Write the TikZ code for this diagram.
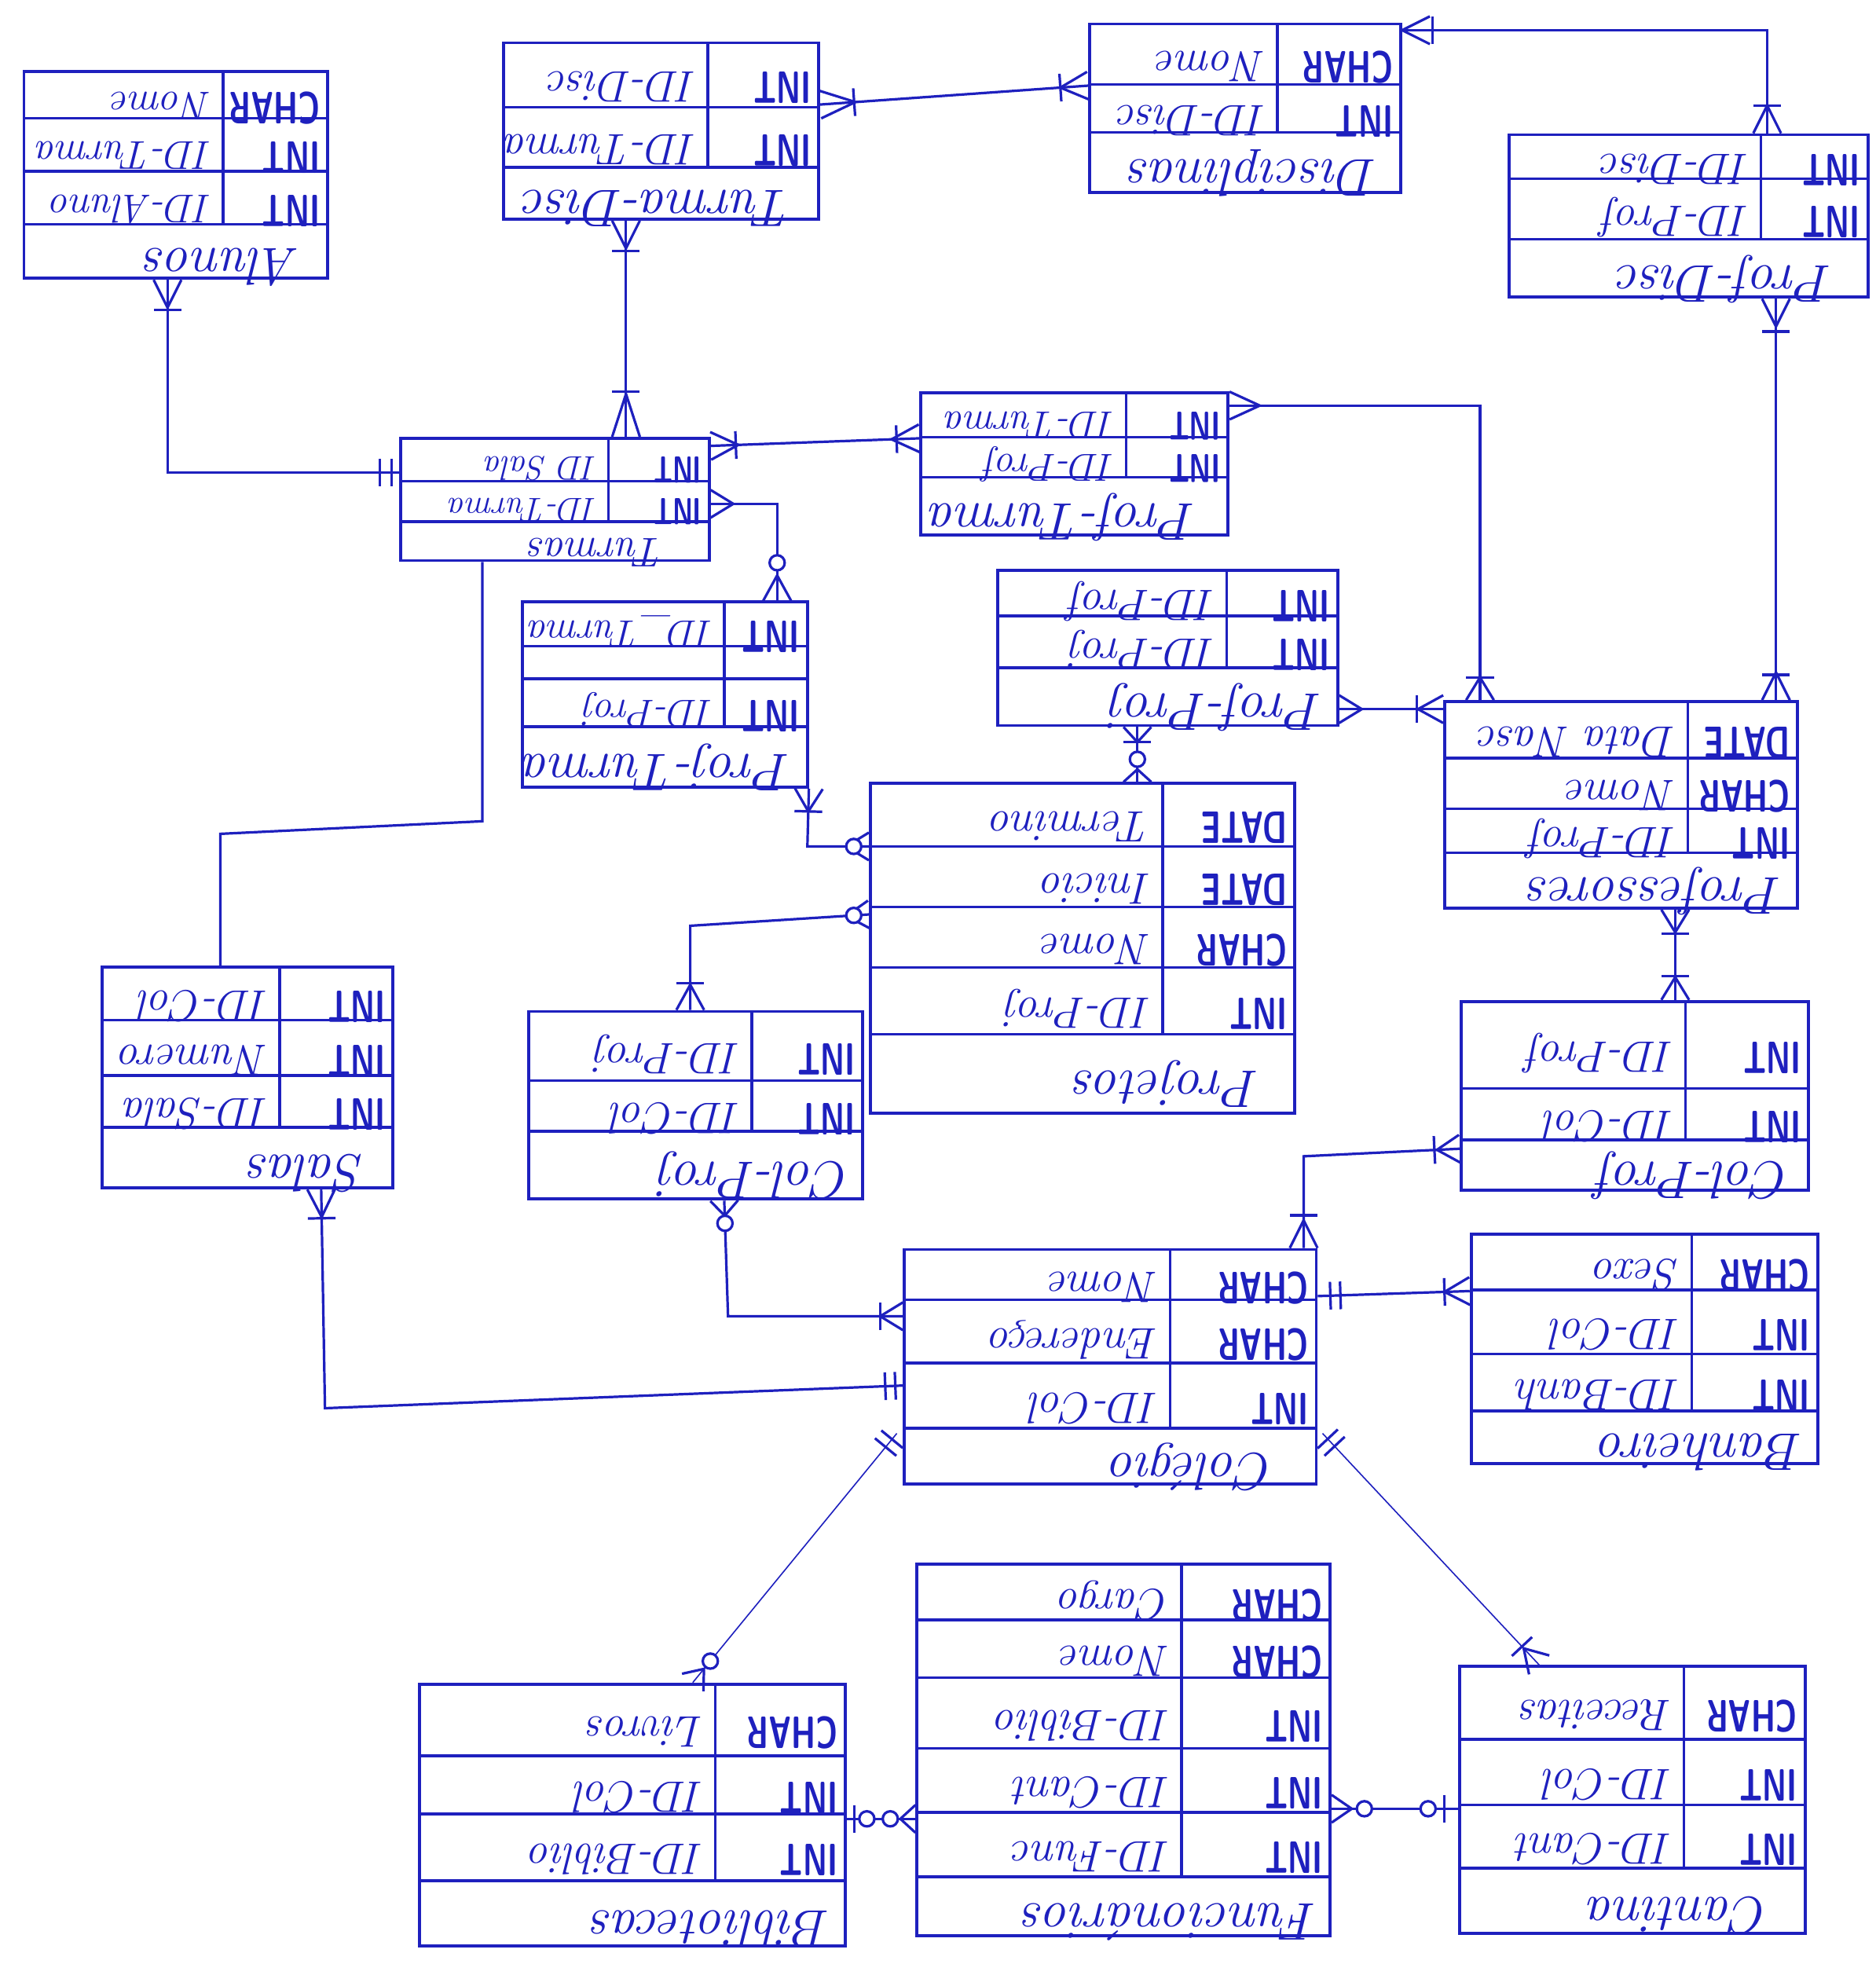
\documentclass[tikz,border=0pt]{standalone}
\usepackage{fontspec}
\usetikzlibrary{calc,fit}
\definecolor{ink}{RGB}{30,32,190}

% table frame: name, left, top, right, bottom, divider x, divider end y, row rules
\newcommand\ertable[8]{%
  \node[tbl,fit={(#2,#3) (#4,#5)}] (#1) {};
  \draw[rule] (#6,#3) -- (#6,#7);
  \foreach \yy in {#8} {\draw[rule] (#2,\yy) -- (#4,\yy);}%
}
% one attribute row: name, divider x, right x, row centre, type, field
\newcommand\fieldrow[6]{%
  \node[typ] (#1-t) at (#3-6,#4) {#5};
  \node[fld] (#1-f) at (#2-9,#4) {#6};
}
% table title: name, x, y, text
\newcommand\tabletitle[4]{\node[ttl] (#1) at (#2,#3) {#4};}

% relationship end marks: #2 = point on the box, #3 = point further along the line
\newcommand\manymark[3][22pt]{%
  \draw[mk] ($(#2)!11pt!90:(#3)$) -- ($(#2)!#1!(#3)$) -- ($(#2)!11pt!-90:(#3)$);}
\newcommand\revmark[3][22pt]{%
  \path ($(#2)!#1!(#3)$) coordinate (rv);
  \draw[mk] ($(rv)!11pt!90:(#3)$) -- (#2) -- ($(rv)!11pt!-90:(#3)$);}
\newcommand\onetick[3]{%
  \path ($(#1)!#3!(#2)$) coordinate (tk);
  \draw[mk] ($(tk)!11pt!90:(#2)$) -- ($(tk)!11pt!-90:(#2)$);}
\newcommand\zeroring[3]{\draw[mk,fill=white] ($(#1)!#3!(#2)$) circle (6pt);}

\begin{document}
\begin{tikzpicture}[x=1pt,y=-1pt,
  tbl/.style={draw=ink,line width=2.4pt,inner sep=0pt},
  rule/.style={draw=ink,line width=2.2pt},
  conn/.style={draw=ink,line width=2pt},
  thinconn/.style={draw=ink,line width=1pt},
  mk/.style={draw=ink,line width=2pt},
  typ/.style={text=ink,rotate=180,anchor=mid west,inner sep=0pt,xscale=.68,font=\sffamily\bfseries\fontsize{36}{36}\selectfont},
  fld/.style={text=ink,rotate=180,anchor=mid west,inner sep=0pt,font=\itshape\fontsize{35}{35}\selectfont},
  ttl/.style={text=ink,rotate=180,anchor=mid west,inner sep=0pt,font=\itshape\fontsize{42}{42}\selectfont},
  small rows/.style={fld/.append style={font=\itshape\fontsize{#1}{#1}\selectfont}},
]
\fill[white] (0,0) rectangle (1489,1568);
\useasboundingbox (0,0) rectangle (1489,1568);

% ---------- tables ----------
\begin{scope}[small rows=32]
\ertable{alunos}{19}{57}{260}{221}{177}{178}{94,136,178}
\fieldrow{alunos1}{177}{260}{75.5}{CHAR}{Nome}
\fieldrow{alunos2}{177}{260}{115}{INT}{ID-Turma}
\fieldrow{alunos3}{177}{260}{157}{INT}{ID-Aluno}
\tabletitle{alunos-title}{238}{199.5}{Alunos}
\end{scope}

\ertable{turmadisc}{400}{34}{650}{174}{562}{133}{85,133}
\fieldrow{turmadisc1}{562}{650}{59.5}{INT}{ID-Disc}
\fieldrow{turmadisc2}{562}{650}{109}{INT}{ID-Turma}
\tabletitle{turmadisc-title}{630}{153.5}{Turma-Disc}

\ertable{disciplinas}{865}{19}{1112}{153}{1014}{105}{67,105}
\fieldrow{disciplinas1}{1014}{1112}{43}{CHAR}{Nome}
\fieldrow{disciplinas2}{1014}{1112}{86}{INT}{ID-Disc}
\tabletitle{disciplinas-title}{1094}{129}{Disciplinas}

\ertable{profdisc}{1198}{107}{1483}{236}{1398}{190}{142,190}
\fieldrow{profdisc1}{1398}{1483}{124.5}{INT}{ID-Disc}
\fieldrow{profdisc2}{1398}{1483}{166}{INT}{ID-Prof}
\tabletitle{profdisc-title}{1455}{213}{Prof-Disc}

\begin{scope}[small rows=27,
  typ/.append style={font=\sffamily\bfseries\fontsize{30}{30}\selectfont},
  ttl/.append style={font=\itshape\fontsize{33}{33}\selectfont}]
\ertable{turmas}{318}{348}{563}{445}{483}{414}{382,414}
\fieldrow{turmas1}{483}{563}{365}{INT}{ID Sala}
\fieldrow{turmas2}{483}{563}{398}{INT}{ID-Turma}
\tabletitle{turmas-title}{528}{430}{Turmas}
\end{scope}

\begin{scope}[small rows=31,
  typ/.append style={font=\sffamily\bfseries\fontsize{32}{32}\selectfont}]
\ertable{profturma}{731}{312}{975}{425}{894}{379}{347,379}
\fieldrow{profturma1}{894}{975}{329.5}{INT}{ID-Turma}
\fieldrow{profturma2}{894}{975}{363}{INT}{ID-Prof}
\tabletitle{profturma-title}{950}{402}{Prof-Turma}
\end{scope}

\begin{scope}[small rows=31]
\ertable{projturma}{415}{478}{641}{625}{575}{577}{513,539,577}
\fieldrow{projturma1}{575}{641}{495.5}{INT}{ID\_Turma}
\fieldrow{projturma2}{575}{641}{558}{INT}{ID-Proj}
\tabletitle{projturma-title}{628}{601}{Proj-Turma}
\end{scope}

\ertable{profproj}{792}{453}{1062}{576}{974}{530}{489,530}
\fieldrow{profproj1}{974}{1062}{471}{INT}{ID-Prof}
\fieldrow{profproj2}{974}{1062}{509.5}{INT}{ID-Proj}
\tabletitle{profproj-title}{1050}{553}{Prof-Proj}

\ertable{professores}{1147}{557}{1427}{721}{1340}{677}{602,642,677}
\fieldrow{professores1}{1340}{1427}{579.5}{DATE}{Data Nasc}
\fieldrow{professores2}{1340}{1427}{622}{CHAR}{Nome}
\fieldrow{professores3}{1340}{1427}{659.5}{INT}{ID-Prof}
\tabletitle{professores-title}{1415}{699}{Professores}

\ertable{projetos}{691}{622}{1028}{884}{923}{821}{672,720,768,821}
\fieldrow{projetos1}{923}{1028}{647}{DATE}{Termino}
\fieldrow{projetos2}{923}{1028}{696}{DATE}{Inicio}
\fieldrow{projetos3}{923}{1028}{744}{CHAR}{Nome}
\fieldrow{projetos4}{923}{1028}{794.5}{INT}{ID-Proj}
\tabletitle{projetos-title}{1000}{852.5}{Projetos}

\ertable{salas}{81}{768}{312}{943}{222}{895}{810,854,895}
\fieldrow{salas1}{222}{312}{789}{INT}{ID-Col}
\fieldrow{salas2}{222}{312}{832}{INT}{Numero}
\fieldrow{salas3}{222}{312}{874.5}{INT}{ID-Sala}
\tabletitle{salas-title}{290}{919}{Salas}

\ertable{colproj}{420}{803}{685}{952}{597}{898}{858,898}
\fieldrow{colproj1}{597}{685}{830.5}{INT}{ID-Proj}
\fieldrow{colproj2}{597}{685}{878}{INT}{ID-Col}
\tabletitle{colproj-title}{676}{925}{Col-Proj}

\ertable{colprof}{1160}{795}{1436}{945}{1338}{905}{864,905}
\fieldrow{colprof1}{1338}{1436}{829.5}{INT}{ID-Prof}
\fieldrow{colprof2}{1338}{1436}{884.5}{INT}{ID-Col}
\tabletitle{colprof-title}{1422}{925}{Col-Prof}

\ertable{banheiro}{1168}{980}{1443}{1162}{1343}{1120}{1024,1075,1120}
\fieldrow{banheiro1}{1343}{1443}{1002}{CHAR}{Sexo}
\fieldrow{banheiro2}{1343}{1443}{1049.5}{INT}{ID-Col}
\fieldrow{banheiro3}{1343}{1443}{1097.5}{INT}{ID-Banh}
\tabletitle{banheiro-title}{1432}{1141}{Banheiro}

\ertable{colegio}{718}{992}{1045}{1178}{929}{1134}{1032,1082,1134}
\fieldrow{colegio1}{929}{1045}{1012}{CHAR}{Nome}
\fieldrow{colegio2}{929}{1045}{1057}{CHAR}{Endereço}
\fieldrow{colegio3}{929}{1045}{1108}{INT}{ID-Col}
\tabletitle{colegio-title}{1012}{1156}{Colégio}

\ertable{bibliotecas}{333}{1337}{671}{1545}{568}{1493}{1394,1440,1493}
\fieldrow{bibliotecas1}{568}{671}{1365.5}{CHAR}{Livros}
\fieldrow{bibliotecas2}{568}{671}{1417}{INT}{ID-Col}
\fieldrow{bibliotecas3}{568}{671}{1466.5}{INT}{ID-Biblio}
\tabletitle{bibliotecas-title}{660}{1519}{Bibliotecas}

\ertable{funcionarios}{728}{1242}{1056}{1537}{938}{1490}{1286,1332,1388,1439,1490}
\fieldrow{funcionarios1}{938}{1056}{1264}{CHAR}{Cargo}
\fieldrow{funcionarios2}{938}{1056}{1309}{CHAR}{Nome}
\fieldrow{funcionarios3}{938}{1056}{1360}{INT}{ID-Biblio}
\fieldrow{funcionarios4}{938}{1056}{1413.5}{INT}{ID-Cant}
\fieldrow{funcionarios5}{938}{1056}{1464.5}{INT}{ID-Func}
\tabletitle{funcionarios-title}{1046}{1513.5}{Funcionários}

\ertable{cantina}{1159}{1323}{1433}{1535}{1337}{1483}{1381,1433,1483}
\fieldrow{cantina1}{1337}{1433}{1352}{CHAR}{Receitas}
\fieldrow{cantina2}{1337}{1433}{1407}{INT}{ID-Col}
\fieldrow{cantina3}{1337}{1433}{1458}{INT}{ID-Cant}
\tabletitle{cantina-title}{1405}{1509}{Cantina}

% ---------- relationships ----------
% Alunos -- Turmas
\coordinate (aA) at (alunos.south -| 133,0);
\coordinate (aB) at (133,375);
\coordinate (aT) at (turmas.west |- 0,375);
\draw[conn] (aA) -- (aB) -- (aT);
\manymark{aA}{aB} \onetick{aA}{aB}{24pt}
\onetick{aT}{aB}{6pt} \onetick{aT}{aB}{15pt}

% Turma-Disc -- Turmas
\coordinate (bA) at (turmadisc.south -| 497,0);
\coordinate (bB) at (turmas.north -| 497,0);
\draw[conn] (bA) -- (bB);
\manymark{bA}{bB} \onetick{bA}{bB}{24pt}
\manymark[34pt]{bB}{bA} \onetick{bB}{bA}{36pt}

% Turma-Disc -- Disciplinas
\coordinate (cA) at (turmadisc.east |- 0,83);
\coordinate (cB) at (disciplinas.west |- 0,68);
\draw[conn] (cA) -- (cB);
\manymark[28pt]{cA}{cB} \onetick{cA}{cB}{27pt}
\manymark{cB}{cA} \onetick{cB}{cA}{22pt}

% Disciplinas -- Prof-Disc
\coordinate (dA) at (disciplinas.east |- 0,24);
\coordinate (dB) at (1403,24);
\coordinate (dC) at (profdisc.north -| 1403,0);
\draw[conn] (dA) -- (dB) -- (dC);
\revmark{dA}{dB} \onetick{dA}{dB}{24pt}
\manymark{dC}{dB} \onetick{dC}{dB}{22pt}

% Prof-Disc -- Professores
\coordinate (eA) at (profdisc.south -| 1410,0);
\coordinate (eB) at (professores.north -| 1410,0);
\draw[conn] (eA) -- (eB);
\manymark{eA}{eB} \onetick{eA}{eB}{26pt}
\manymark{eB}{eA} \onetick{eB}{eA}{20pt}

% Turmas -- Prof-Turma
\coordinate (fA) at (turmas.east |- 0,354);
\coordinate (fB) at (profturma.west |- 0,348);
\draw[conn] (fA) -- (fB);
\manymark{fA}{fB} \onetick{fA}{fB}{20pt}
\manymark{fB}{fA} \onetick{fB}{fA}{18pt}

% Prof-Turma -- Professores
\coordinate (gA) at (profturma.east |- 0,322);
\coordinate (gB) at (1175,322);
\coordinate (gC) at (professores.north -| 1175,0);
\draw[conn] (gA) -- (gB) -- (gC);
\manymark[24pt]{gA}{gB}
\manymark[18pt]{gC}{gB} \onetick{gC}{gB}{18pt}

% Turmas -- Proj-Turma
\coordinate (hA) at (turmas.east |- 0,400);
\coordinate (hB) at (617,400);
\coordinate (hC) at (projturma.north -| 617,0);
\draw[conn] (hA) -- (hB) -- (hC);
\manymark[18pt]{hA}{hB}
\manymark[20pt]{hC}{hB} \zeroring{hC}{hB}{30pt}

% Proj-Turma -- Projetos
\coordinate (iA) at (projturma.south east);
\coordinate (iB) at (641,672);
\coordinate (iC) at (projetos.west |- 0,672);
\draw[conn] (iA) -- (iB) -- (iC);
\manymark[18pt]{iA}{iB} \onetick{iA}{iB}{18pt}
\manymark[18pt]{iC}{iB} \zeroring{iC}{iB}{12pt}

% Projetos -- Col-Proj
\coordinate (jA) at (projetos.west |- 0,726);
\coordinate (jB) at (548,735);
\coordinate (jC) at (colproj.north -| 548,0);
\draw[conn] (jA) -- (jB) -- (jC);
\manymark[18pt]{jA}{jB} \zeroring{jA}{jB}{12pt}
\manymark[20pt]{jC}{jB} \onetick{jC}{jB}{21pt}

% Prof-Proj -- Projetos
\coordinate (kA) at (profproj.south -| 903,0);
\coordinate (kB) at (projetos.north -| 903,0);
\draw[conn] (kA) -- (kB);
\manymark[12pt]{kA}{kB} \onetick{kA}{kB}{12pt}
\manymark[10pt]{kB}{kA} \zeroring{kB}{kA}{18pt}

% Prof-Proj -- Professores
\coordinate (lA) at (profproj.east |- 0,563);
\coordinate (lB) at (professores.west |- 0,563);
\draw[conn] (lA) -- (lB);
\manymark[18pt]{lA}{lB}
\manymark[20pt]{lB}{lA} \onetick{lB}{lA}{21pt}

% Professores -- Col-Prof
\coordinate (mA) at (professores.south -| 1330,0);
\coordinate (mB) at (colprof.north -| 1330,0);
\draw[conn] (mA) -- (mB);
\manymark[18pt]{mA}{mB} \onetick{mA}{mB}{19pt}
\manymark[18pt]{mB}{mA} \onetick{mB}{mA}{19pt}

% Col-Prof -- Colegio
\coordinate (nA) at (colprof.west |- 0,912);
\coordinate (nB) at (1035,918);
\coordinate (nC) at (colegio.north -| 1035,0);
\draw[conn] (nA) -- (nB) -- (nC);
\manymark[18pt]{nA}{nB} \onetick{nA}{nB}{20pt}
\manymark[22pt]{nC}{nB} \onetick{nC}{nB}{26pt}

% Banheiro -- Colegio
\coordinate (oA) at (banheiro.west |- 0,1025);
\coordinate (oB) at (colegio.east |- 0,1029);
\draw[conn] (oA) -- (oB);
\manymark[20pt]{oA}{oB} \onetick{oA}{oB}{20pt}
\onetick{oB}{oA}{10pt} \onetick{oB}{oA}{18pt}

% Salas -- Colegio
\coordinate (pA) at (salas.south -| 255,0);
\coordinate (pB) at (258,1118);
\coordinate (pC) at (colegio.west |- 0,1100);
\draw[conn] (pA) -- (pB) -- (pC);
\manymark{pA}{pB} \onetick{pA}{pB}{23pt}
\onetick{pC}{pB}{6pt} \onetick{pC}{pB}{14pt}

% Col-Proj -- Colegio
\coordinate (qA) at (colproj.south -| 575,0);
\coordinate (qB) at (578,1045);
\coordinate (qC) at (colegio.west |- 0,1045);
\draw[conn] (qA) -- (qB) -- (qC);
\manymark[12pt]{qA}{qB} \zeroring{qA}{qB}{18pt}
\manymark[18pt]{qC}{qB} \onetick{qC}{qB}{18pt}

% Turmas -- Salas
\coordinate (rA) at (turmas.south -| 383,0);
\coordinate (rB) at (383,652);
\coordinate (rC) at (175,662);
\coordinate (rD) at (salas.north -| 175,0);
\draw[conn] (rA) -- (rB) -- (rC) -- (rD);

% Colegio -- Bibliotecas
\coordinate (sA) at (712,1138);
\coordinate (sB) at (bibliotecas.north -| 550,0);
\draw[thinconn] (sA) -- (sB);
\onetick{sA}{sB}{6pt} \onetick{sA}{sB}{14pt}
\manymark[14pt]{sB}{sA} \zeroring{sB}{sA}{22pt}

% Colegio -- Cantina
\coordinate (tA) at (1050,1138);
\coordinate (tB) at (cantina.north -| 1222,0);
\draw[thinconn] (tA) -- (tB);
\onetick{tA}{tB}{6pt} \onetick{tA}{tB}{14pt}
\manymark[18pt]{tB}{tA} \onetick{tB}{tA}{20pt}

% Bibliotecas -- Funcionarios
\coordinate (uA) at (bibliotecas.east |- 0,1444);
\coordinate (uB) at (funcionarios.west |- 0,1444);
\draw[conn] (uA) -- (uB);
\onetick{uA}{uB}{6pt} \zeroring{uA}{uB}{16pt}
\manymark[12pt]{uB}{uA} \zeroring{uB}{uA}{20pt}

% Funcionarios -- Cantina
\coordinate (vA) at (funcionarios.east |- 0,1436);
\coordinate (vB) at (cantina.west |- 0,1436);
\draw[conn] (vA) -- (vB);
\manymark[16pt]{vA}{vB} \zeroring{vA}{vB}{26pt}
\zeroring{vB}{vA}{24pt} \onetick{vB}{vA}{11pt}
\end{tikzpicture}
\end{document}
